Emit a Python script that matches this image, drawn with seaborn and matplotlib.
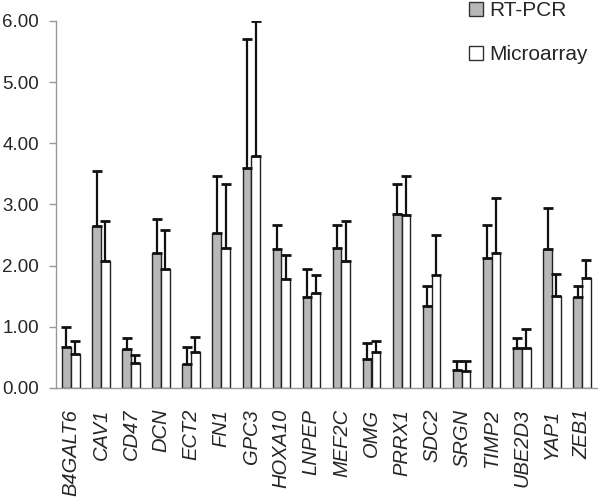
import matplotlib
matplotlib.use("Agg")
import matplotlib.pyplot as plt
import seaborn as sns
import pandas as pd
import numpy as np
from matplotlib.patches import Patch

genes = ["B4GALT6", "CAV1", "CD47", "DCN", "ECT2", "FN1", "GPC3", "HOXA10", "LNPEP",
         "MEF2C", "OMG", "PRRX1", "SDC2", "SRGN", "TIMP2", "UBE2D3", "YAP1", "ZEB1"]
rt_pcr = [0.67, 2.64, 0.63, 2.21, 0.39, 2.53, 3.60, 2.27, 1.48,
          2.29, 0.48, 2.85, 1.34, 0.29, 2.13, 0.66, 2.27, 1.49]
rt_pcr_err_top = [0.99, 3.55, 0.81, 2.77, 0.67, 3.47, 5.70, 2.66, 1.94,
                  2.66, 0.74, 3.33, 1.66, 0.44, 2.66, 0.82, 2.94, 1.66]
microarray = [0.56, 2.08, 0.41, 1.94, 0.58, 2.29, 3.80, 1.78, 1.55,
              2.08, 0.59, 2.82, 1.85, 0.27, 2.21, 0.65, 1.51, 1.79]
microarray_err_top = [0.77, 2.73, 0.54, 2.58, 0.83, 3.33, 6.00, 2.17, 1.85,
                      2.73, 0.76, 3.46, 2.50, 0.44, 3.11, 0.96, 1.86, 2.09]
series = ["RT-PCR", "Microarray"]
yticks = [0, 1, 2, 3, 4, 5, 6]

sns.set_style("white")
plt.rcParams['font.family'] = ['Liberation Sans', 'DejaVu Sans']

df = pd.DataFrame({
    "gene": genes * 2,
    "value": rt_pcr + microarray,
    "method": [series[0]] * len(genes) + [series[1]] * len(genes),
})

fig = plt.figure(figsize=(6.0, 4.99), dpi=100)
ax = fig.add_axes([0.093, 0.2225, 0.902, 0.7355])

sns.barplot(data=df, x="gene", y="value", hue="method", order=genes, hue_order=series,
            palette={"RT-PCR": "#b8b8b8", "Microarray": "#ffffff"},
            edgecolor="#222222", linewidth=1.0, width=0.58, errorbar=None,
            ax=ax, legend=False)

tops = [rt_pcr_err_top, microarray_err_top]
vals = [rt_pcr, microarray]
for cont, t, v in zip(ax.containers, tops, vals):
    xs = [p.get_x() + p.get_width() / 2 for p in cont.patches]
    v = np.array(v); t = np.array(t)
    ax.errorbar(xs, v, yerr=[np.zeros_like(v), t - v], fmt="none",
                ecolor="#111111", elinewidth=1.6, capsize=3.5, capthick=2.0, zorder=3)

ax.set_ylim(0, 6)
ax.set_xlim(-0.5, len(genes) - 0.5)
ax.set_yticks(yticks)
ax.set_yticklabels([f"{t:.2f}" for t in yticks], fontsize=13.5)
ax.set_xticks(range(len(genes)))
ax.set_xticklabels(genes, rotation=90, fontsize=14.5, fontstyle="italic")
ax.set_xticks(np.arange(-0.5, len(genes), 1.0), minor=True)
ax.tick_params(axis="x", which="major", length=0, pad=15)
ax.tick_params(axis="x", which="minor", length=5, color="#999999", width=1, direction="out")
ax.tick_params(axis="y", length=5, color="#999999", width=1, direction="out", left=True, pad=7)
ax.set_xlabel("")
ax.set_ylabel("")
for s in ["top", "right"]:
    ax.spines[s].set_visible(False)
for s in ["left", "bottom"]:
    ax.spines[s].set_color("#999999")
    ax.spines[s].set_linewidth(1.0)

handles = [Patch(facecolor="#b8b8b8", edgecolor="#333333", label="RT-PCR"),
           Patch(facecolor="#ffffff", edgecolor="#333333", label="Microarray")]
fig.legend(handles=handles, loc="upper left", bbox_to_anchor=(0.75, 1.035), frameon=False,
           fontsize=15, handlelength=0.7, handleheight=0.7, handletextpad=0.3,
           labelspacing=1.2)

fig.savefig("out.png", dpi=100)
